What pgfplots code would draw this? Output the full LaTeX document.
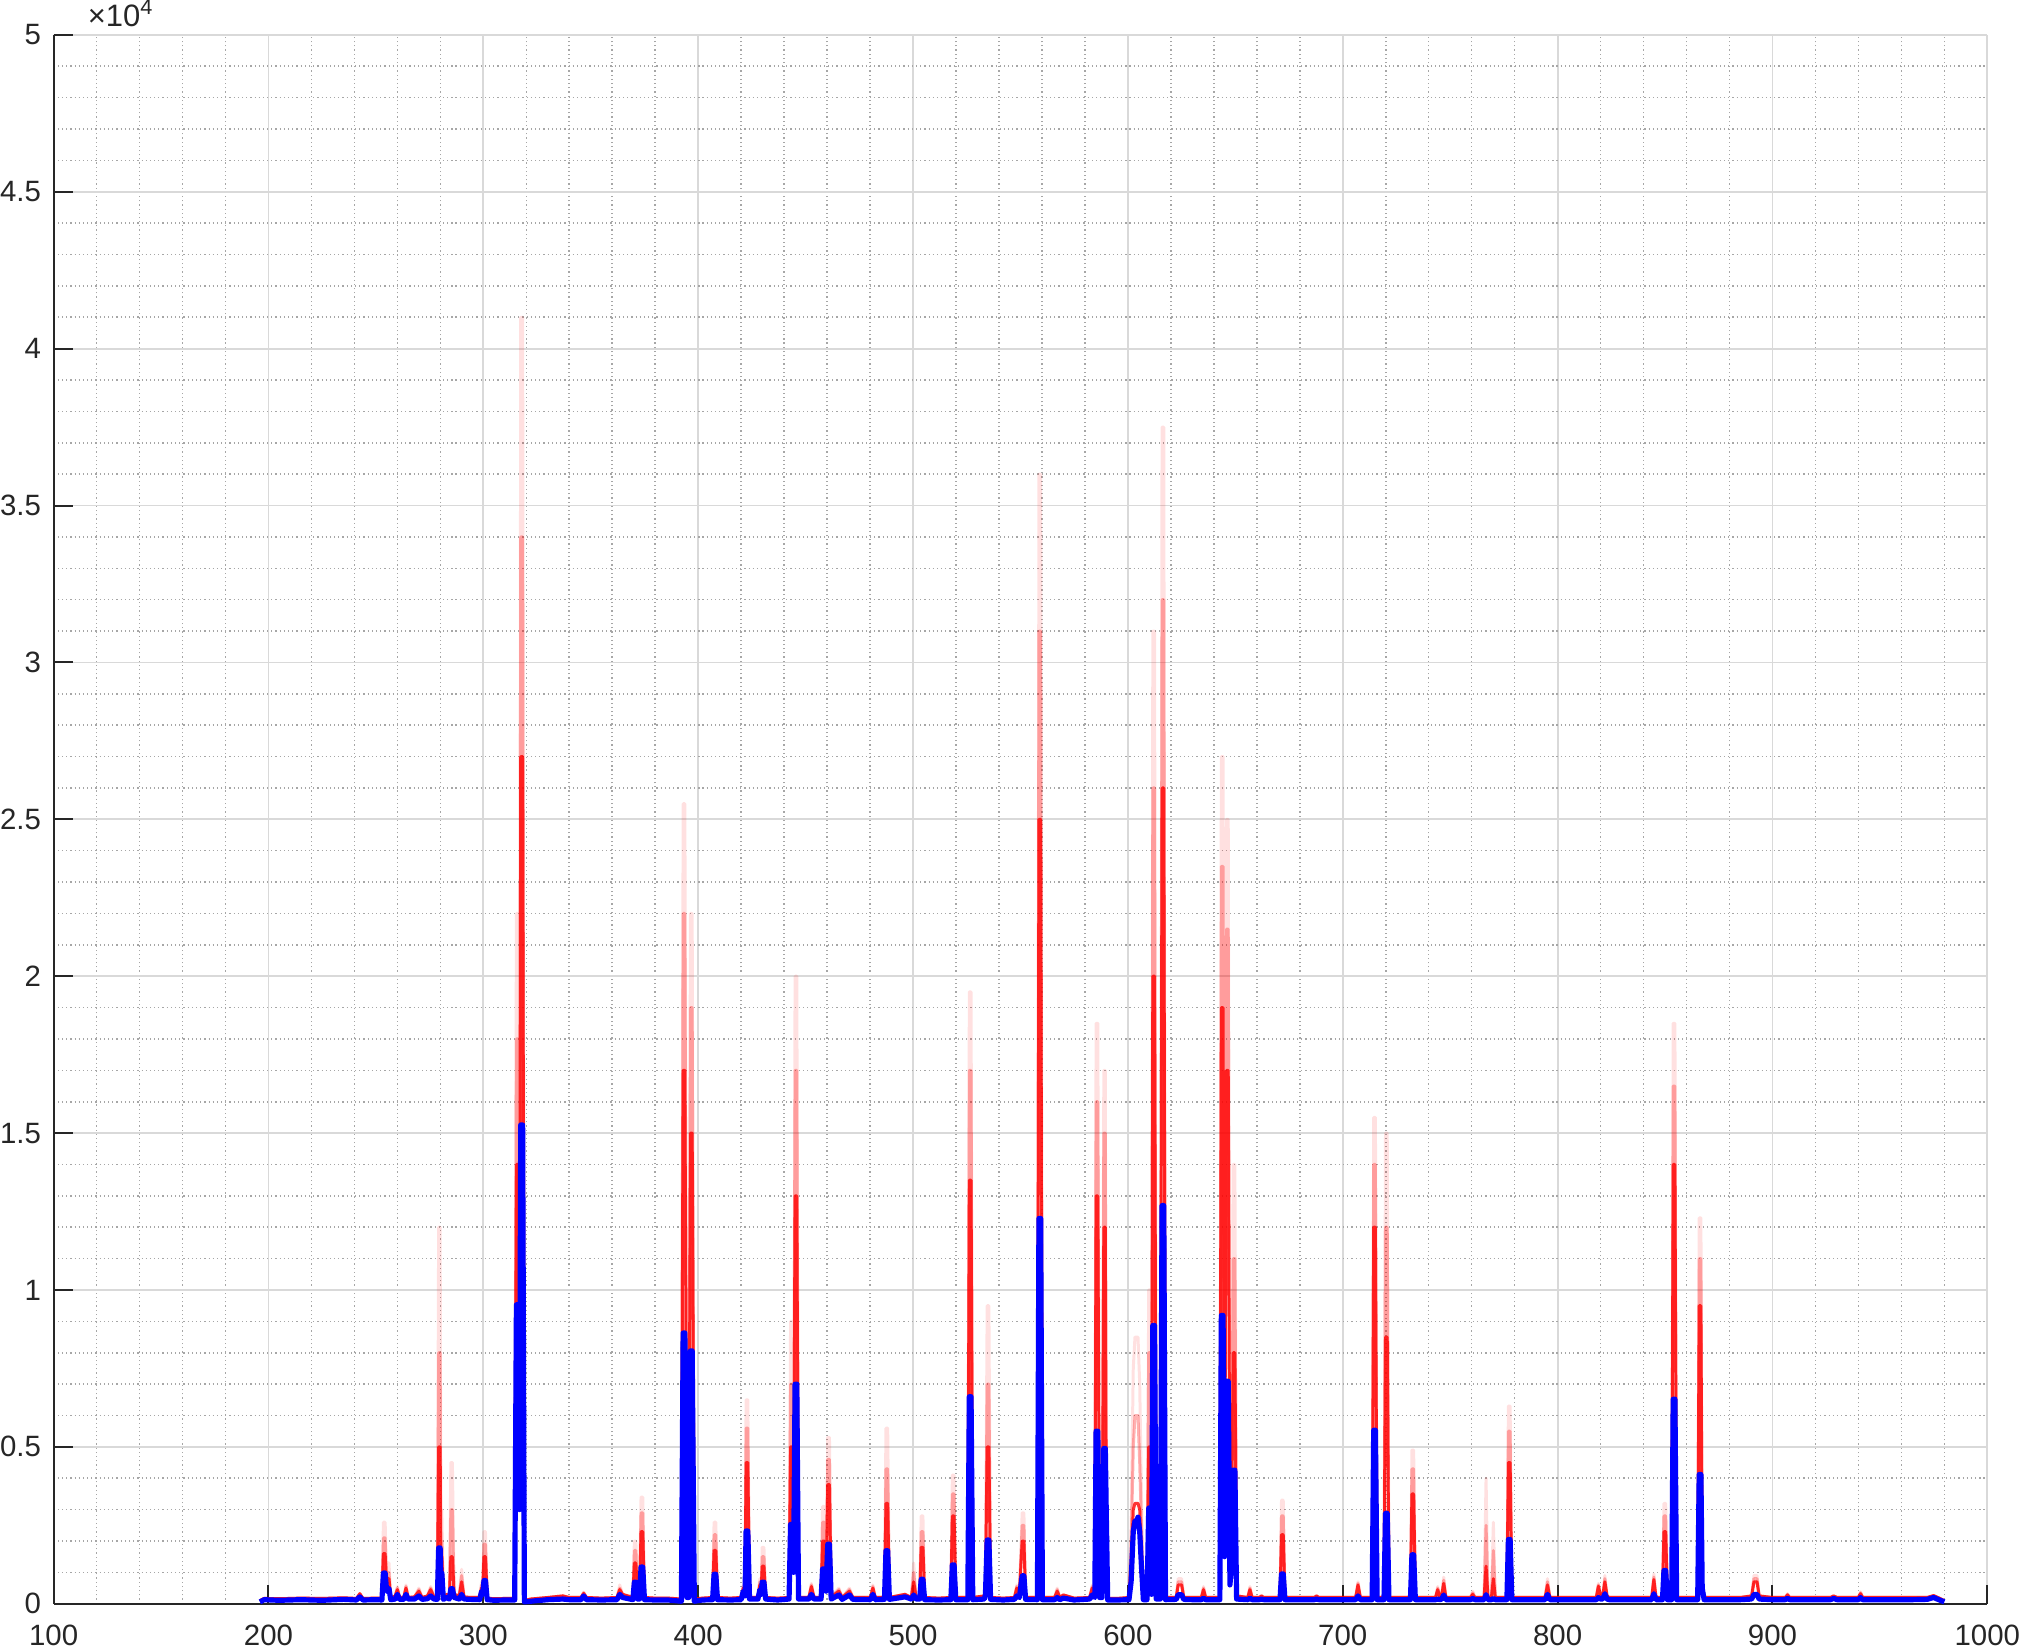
\documentclass[border=0pt]{standalone}
\usepackage{fontspec}
\setmainfont{Liberation Sans}
\usepackage{pgfplots}
\usepackage{pgfplotstable}
\pgfplotsset{compat=1.18}
\pgfplotstableread{
x b r1 r2 r3
196 60 100 100 100
198 130 170 170 170
205 110 160 160 160
215 130 180 180 180
225 110 170 170 170
235 140 190 190 190
241 120 170 170 170
242.5 220 320 320 320
244 120 170 170 170
250 130 180 180 180
252.8 120 180 180 180
253.5 980 1600 2100 2600
254.3 980 1600 2100 2600
255.0 400 600 700 800
255.5 480 800 1000 1300
256.1 480 800 1000 1300
256.9 130 180 180 180
259 150 250 250 250
260 300 450 500 550
261 140 200 200 200
263 140 200 200 200
264 300 500 550 600
265 150 200 200 200
268 150 220 220 220
270 250 400 450 500
271.5 140 200 200 200
274 160 250 250 250
275.5 250 450 500 550
277 150 220 220 220
278.6 140 200 200 200
279.2 1780 5000 8000 12000
279.9 1780 5000 8000 12000
280.2 980 1500 2000 3000
280.7 980 1500 2000 3000
281.4 140 200 200 200
283 200 300 300 300
284.2 150 200 200 200
284.9 480 1500 3000 4500
285.6 480 1500 3000 4500
286.4 200 300 300 300
288.8 150 250 250 250
289.9 300 700 900 1100
291 150 220 220 220
294 140 200 200 200
298.3 130 200 200 200
299.2 400 500 600 700
299.7 300 400 400 400
300.3 740 1500 1900 2300
301.0 740 1500 1900 2300
301.8 130 180 180 180
305 110 160 160 160
310 120 170 170 170
314.6 120 170 170 170
315.4 9530 14000 18000 22000
316.2 9530 14000 18000 22000
316.8 3000 3500 4000 4500
317.4 15260 27000 34000 41000
318.3 15260 27000 34000 41000
319.1 60 100 100 100
322 80 150 150 150
330 130 200 200 200
337 150 250 250 250
340 130 200 200 200
345.5 130 200 200 200
346.7 250 330 350 370
348 130 200 200 200
355 120 180 180 180
362.2 130 200 200 200
363.5 300 450 500 600
364.8 200 300 300 300
369.6 130 200 200 200
370.3 690 1300 1700 2000
371.0 690 1300 1700 2000
371.8 150 250 250 250
372.7 150 250 250 250
373.4 1170 2300 2900 3400
374.2 1170 2300 2900 3400
375.0 130 200 200 200
380 120 180 180 180
386 120 180 180 180
392.2 80 150 150 150
393.0 8630 17000 22000 25500
393.8 8630 17000 22000 25500
394.8 200 300 300 300
395.6 200 300 300 300
396.4 8060 15000 19000 22000
397.2 8060 15000 19000 22000
398.2 80 150 150 150
402 120 180 180 180
406.7 130 200 200 200
407.4 940 1700 2200 2600
408.2 940 1700 2200 2600
409.0 130 200 200 200
415 120 180 180 180
420 130 200 200 200
421.0 400 500 550 600
421.8 250 300 300 300
422.3 2320 4500 5600 6500
423.1 2320 4500 5600 6500
423.9 150 200 200 200
427.8 150 200 200 200
428.7 450 600 700 800
429.3 300 400 400 400
429.8 690 1200 1500 1800
430.6 690 1200 1500 1800
431.4 150 200 200 200
437 120 180 180 180
442.3 150 200 200 200
443.0 2530 5000 7000 9000
443.8 2530 5000 7000 9000
444.4 1000 1500 1500 1500
445.1 7000 13000 17000 20000
445.9 7000 13000 17000 20000
446.7 150 200 200 200
451.5 150 200 200 200
452.7 300 550 600 650
453.9 150 200 200 200
457.2 150 200 200 200
457.9 1110 2000 2600 3100
458.7 1110 2000 2600 3100
459.5 400 500 500 500
460.3 1900 3800 4600 5300
461.1 1900 3800 4600 5300
461.9 150 220 220 220
465.5 280 400 450 500
467 140 200 200 200
470.4 280 400 450 500
472 140 200 200 200
480.2 130 200 200 200
481.3 300 500 550 600
482.4 130 200 200 200
486.7 140 200 200 200
487.4 1690 3200 4300 5600
488.2 1690 3200 4300 5600
489.0 140 200 200 200
496.3 220 300 300 300
499.2 150 200 200 200
500.3 280 700 1000 1300
501.4 150 220 220 220
503.1 150 220 220 220
503.8 780 1800 2300 2800
504.6 780 1800 2300 2800
505.4 130 200 200 200
512 120 180 180 180
517.6 130 200 200 200
518.3 1240 2800 3500 4100
519.1 1240 2800 3500 4100
519.9 130 200 200 200
525.5 130 200 200 200
526.2 6600 13500 17000 19500
527.0 6600 13500 17000 19500
527.8 130 200 200 200
533.2 150 250 250 250
533.7 300 400 400 400
534.5 2030 5000 7000 9500
535.3 2030 5000 7000 9500
536.1 140 200 200 200
542 120 180 180 180
547.2 140 200 200 200
548.3 250 500 550 600
549.5 200 300 300 300
550.8 890 2000 2500 2900
551.6 890 2000 2500 2900
552.4 140 200 200 200
557.9 130 200 200 200
558.6 12280 25000 31000 36000
559.4 12280 25000 31000 36000
560.2 130 200 200 200
565.9 130 200 200 200
567.1 200 400 450 500
568.3 130 200 200 200
570 180 280 280 280
575 120 180 180 180
582.2 150 200 200 200
583.4 280 500 550 600
584.6 200 250 250 250
585.2 5500 13000 16000 18500
586.0 5500 13000 16000 18500
586.8 200 300 300 300
588.0 200 300 300 300
588.8 4950 12000 15000 17000
589.5 4950 12000 15000 17000
589.9 3070 3300 3400 3500
590.6 120 170 170 170
595 120 170 170 170
600.5 130 200 200 200
601.5 700 1200 1800 2500
602.5 2300 3000 5000 7500
603.3 2640 3200 6000 8500
604.0 2600 3200 6000 8500
604.7 2760 3200 6000 8500
605.5 2300 3000 4500 7000
606.3 1200 1600 2500 3500
607.2 130 200 200 200
608.9 130 200 200 200
609.7 3050 5000 8000 10000
610.4 3050 5000 8000 10000
611.0 300 400 400 400
611.6 8870 20000 26000 31000
612.4 8870 20000 26000 31000
613.2 150 250 250 250
615.1 150 250 250 250
615.9 12690 26000 32000 37500
616.7 12690 26000 32000 37500
617.5 130 200 200 200
622.5 140 200 200 200
623.4 290 600 700 800
625.0 290 600 700 800
626 140 200 200 200
630 130 200 200 200
634.2 130 200 200 200
635.2 180 450 500 550
636.2 130 200 200 200
642.8 130 200 200 200
643.5 9190 19000 23500 27000
644.3 9190 19000 23500 27000
645.0 1500 2000 2000 2000
645.9 7090 17000 21500 25000
646.7 7090 17000 21500 25000
647.5 600 800 800 800
648.2 1240 1600 1800 2000
649.0 4260 8000 11000 14000
649.8 4260 8000 11000 14000
650.6 150 250 250 250
655.8 130 200 200 200
656.8 180 450 500 550
657.8 130 200 200 200
661.2 130 200 200 200
662.2 150 250 250 250
663.2 130 200 200 200
670.8 130 200 200 200
671.5 950 2200 2800 3300
672.3 950 2200 2800 3300
673.1 130 200 200 200
680 130 200 200 200
686.8 130 200 200 200
687.8 150 250 250 250
688.8 130 200 200 200
695 130 200 200 200
700 130 200 200 200
706 130 200 200 200
707.1 250 600 650 700
708.2 130 200 200 200
713.7 130 200 200 200
714.4 5530 12000 14000 15500
715.2 5530 12000 14000 15500
716.0 130 200 200 200
719.2 130 200 200 200
719.9 2880 8500 12000 15000
720.7 2880 8500 12000 15000
721.5 130 200 200 200
727 130 200 200 200
731.5 130 200 200 200
732.2 1560 3500 4300 4900
733.0 1560 3500 4300 4900
733.8 130 200 200 200
738 130 200 200 200
743.2 130 200 200 200
744.2 150 450 500 550
745.2 130 200 200 200
746.0 150 250 250 250
747.0 280 650 750 850
748.0 130 200 200 200
755 130 200 200 200
759.5 130 200 200 200
760.5 170 300 350 400
761.5 130 200 200 200
765.8 130 200 200 200
766.7 290 1200 2500 4000
767.6 130 200 200 200
769.2 130 200 200 200
770.1 170 800 1700 2600
771.0 130 200 200 200
776.4 130 200 200 200
777.1 2050 4500 5500 6300
777.9 2050 4500 5500 6300
778.7 130 200 200 200
785 130 200 200 200
794.2 130 200 200 200
795.3 300 600 700 800
796.4 130 200 200 200
805 130 200 200 200
812 130 200 200 200
818 130 200 200 200
819 200 560 600 650
820 150 250 250 250
821 150 250 250 250
822 320 700 800 900
823 150 250 250 250
824 130 200 200 200
835 130 200 200 200
843.8 130 200 200 200
844.8 320 770 850 950
845.8 130 200 200 200
848.8 130 200 200 200
849.5 1060 2300 2800 3200
850.3 1060 2300 2800 3200
851.1 130 200 200 200
853.1 130 200 200 200
853.8 6520 14000 16500 18500
854.6 6520 14000 16500 18500
855.4 130 200 200 200
860 130 200 200 200
865.2 130 200 200 200
865.9 4120 9500 11000 12300
866.7 4120 9500 11000 12300
867.3 500 700 700 700
868.2 130 200 200 200
875 130 200 200 200
885 130 200 200 200
890.3 150 250 250 250
891.4 300 700 800 900
892.8 300 700 800 900
893.8 150 250 250 250
900 130 200 200 200
906 130 200 200 200
907 180 280 300 320
908 130 200 200 200
920 130 200 200 200
927 130 200 200 200
928.5 170 250 250 250
930 130 200 200 200
940 130 200 200 200
941 200 320 350 380
942 130 200 200 200
955 130 200 200 200
965 130 200 200 200
972 140 200 200 200
975 200 260 260 260
977 140 200 200 200
980 60 100 100 100
}\spec
\begin{document}
\begin{tikzpicture}
\begin{axis}[
  scale only axis,
  width=485bp, height=393.5bp,
  xmin=100, xmax=1000, ymin=0, ymax=50000,
  axis x line*=bottom, axis y line*=left,
  xtick={100,200,...,1000},
  xticklabels={100,200,300,400,500,600,700,800,900,1000},
  ytick={0,5000,...,50000},
  yticklabels={0,0.5,1,1.5,2,2.5,3,3.5,4,4.5,5},
  scaled y ticks=false, scaled x ticks=false,
  minor x tick num=4, minor y tick num=4,
  grid=both,
  major grid style={line width=0.45bp, color=black!15},
  minor grid style={line width=0.4bp, color=black!35, dash pattern=on 0.3bp off 0.75bp},
  tick align=inside,
  major tick length=4.75bp, minor tick length=0pt,
  tick style={line width=0.5bp, color=black!85},
  axis line style={line width=0.5bp, color=black!85},
  ticklabel style={font=\fontsize{7.4}{9}\selectfont, color=black!85},
  /pgf/number format/assume math mode=true,
  yticklabel style={inner sep=0pt, xshift=-3bp},
  xticklabel style={inner sep=0pt, yshift=-5bp},
  clip=false,
]
\addplot[red, line width=0.75bp, opacity=0.12, line join=round] table[x=x, y=r3] {\spec};
\addplot[red, line width=0.75bp, opacity=0.3, line join=round] table[x=x, y=r2] {\spec};
\addplot[red, line width=0.75bp, opacity=0.8, line join=round] table[x=x, y=r1] {\spec};
\addplot[blue, line width=1.3bp, line join=round] table[x=x, y=b] {\spec};
\node[anchor=base west, inner sep=0pt, outer sep=0pt, xshift=8.6bp, yshift=2.2bp, font=\fontsize{7.8}{9}\selectfont, text=black!85] at (axis cs:100,50000) {×10\textsuperscript{4}};
\end{axis}
\end{tikzpicture}
\end{document}
